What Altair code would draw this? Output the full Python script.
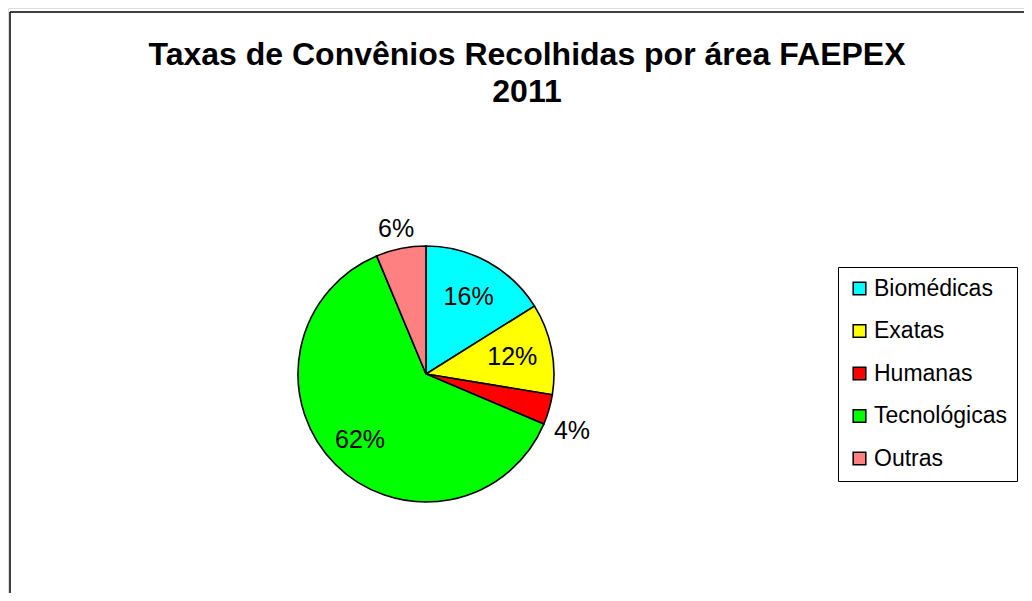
import altair as alt
import pandas as pd

categories = ["Biomédicas", "Exatas", "Humanas", "Tecnológicas", "Outras"]
values = [16.1, 11.5, 3.8, 62.3, 6.3]
labels = ["16%", "12%", "4%", "62%", "6%"]
colors = ["#00FFFF", "#FFFF00", "#FF0000", "#00FF00", "#FF8080"]
outside = ["Humanas", "Outras"]
title_lines = ["Taxas de Convênios Recolhidas por área FAEPEX", "2011"]

df = pd.DataFrame({"cat": categories, "value": values, "label": labels,
                   "idx": list(range(len(categories)))})
TOTAL = float(sum(values))

W, H = 1016, 585
CX, CY, R = 418, 366, 128
FONT = "Liberation Sans"
OUT_DY = {"Humanas": 15, "Outras": 4}

theta_scale = alt.Scale(domain=[0, TOTAL])

color = alt.Color("cat:N", sort=categories,
                  scale=alt.Scale(domain=categories, range=colors),
                  legend=alt.Legend(title=None, orient="none", legendX=830, legendY=259,
                                    strokeColor="black", fillColor="white", padding=10,
                                    symbolType="square", symbolSize=160,
                                    symbolStrokeColor="black", symbolStrokeWidth=1.5,
                                    labelFont=FONT, labelFontSize=23, labelColor="black",
                                    rowPadding=18.5, symbolOffset=0, labelOffset=3))

one = pd.DataFrame({"a": [0]})
border_top = alt.Chart(one).mark_rule(stroke="black", strokeWidth=1.5).encode(
    x=alt.value(2), x2=alt.value(W), y=alt.value(4))
border_left = alt.Chart(one).mark_rule(stroke="black", strokeWidth=1.5).encode(
    x=alt.value(2), y=alt.value(4), y2=alt.value(H))

pie = alt.Chart(df).mark_arc(outerRadius=R, stroke="black", strokeWidth=1.6).encode(
    theta=alt.Theta("value:Q", stack=True, scale=theta_scale),
    color=color,
    order=alt.Order("idx:Q"),
    x=alt.value(CX), y=alt.value(CY))

label_base = alt.Chart(df).transform_window(
    cum="sum(value)", sort=[alt.SortField("idx")], frame=[None, 0]
).transform_calculate(
    mid="datum.cum - datum.value / 2"
)


def label_layer(filter_expr, radius, dy=0):
    return label_base.transform_filter(filter_expr).mark_text(
        font=FONT, fontSize=25, color="black", align="center", baseline="middle", dy=dy
    ).encode(
        theta=alt.Theta("mid:Q", stack=None, scale=theta_scale),
        radius=alt.value(radius),
        text="label:N",
        x=alt.value(CX), y=alt.value(CY))


inside_main = label_layer(f"indexof({outside}, datum.cat) < 0 && datum.cat != 'Tecnológicas'", 88)
inside_big = label_layer("datum.cat == 'Tecnológicas'", 93)
outside_layers = [label_layer(f"datum.cat == '{c}'", 152, OUT_DY[c]) for c in outside]

tdf = pd.DataFrame({"t": title_lines, "i": [0, 1]})
title = alt.Chart(tdf).mark_text(font=FONT, fontSize=32, fontWeight="bold", color="black",
                                 align="center", baseline="alphabetic").encode(
    text="t:N",
    x=alt.value(519),
    y=alt.Y("i:Q", scale=alt.Scale(domain=[0, 1], range=[57, 94]), axis=None))

chart = alt.layer(border_top, border_left, pie, inside_main, inside_big, *outside_layers,
                  title).properties(
    width=W, height=H, padding=0,
    autosize=alt.AutoSizeParams(type="none")
).configure_view(stroke=None).configure(background="white")

chart.save("out.html", embed_options={"renderer": "svg", "actions": False})
